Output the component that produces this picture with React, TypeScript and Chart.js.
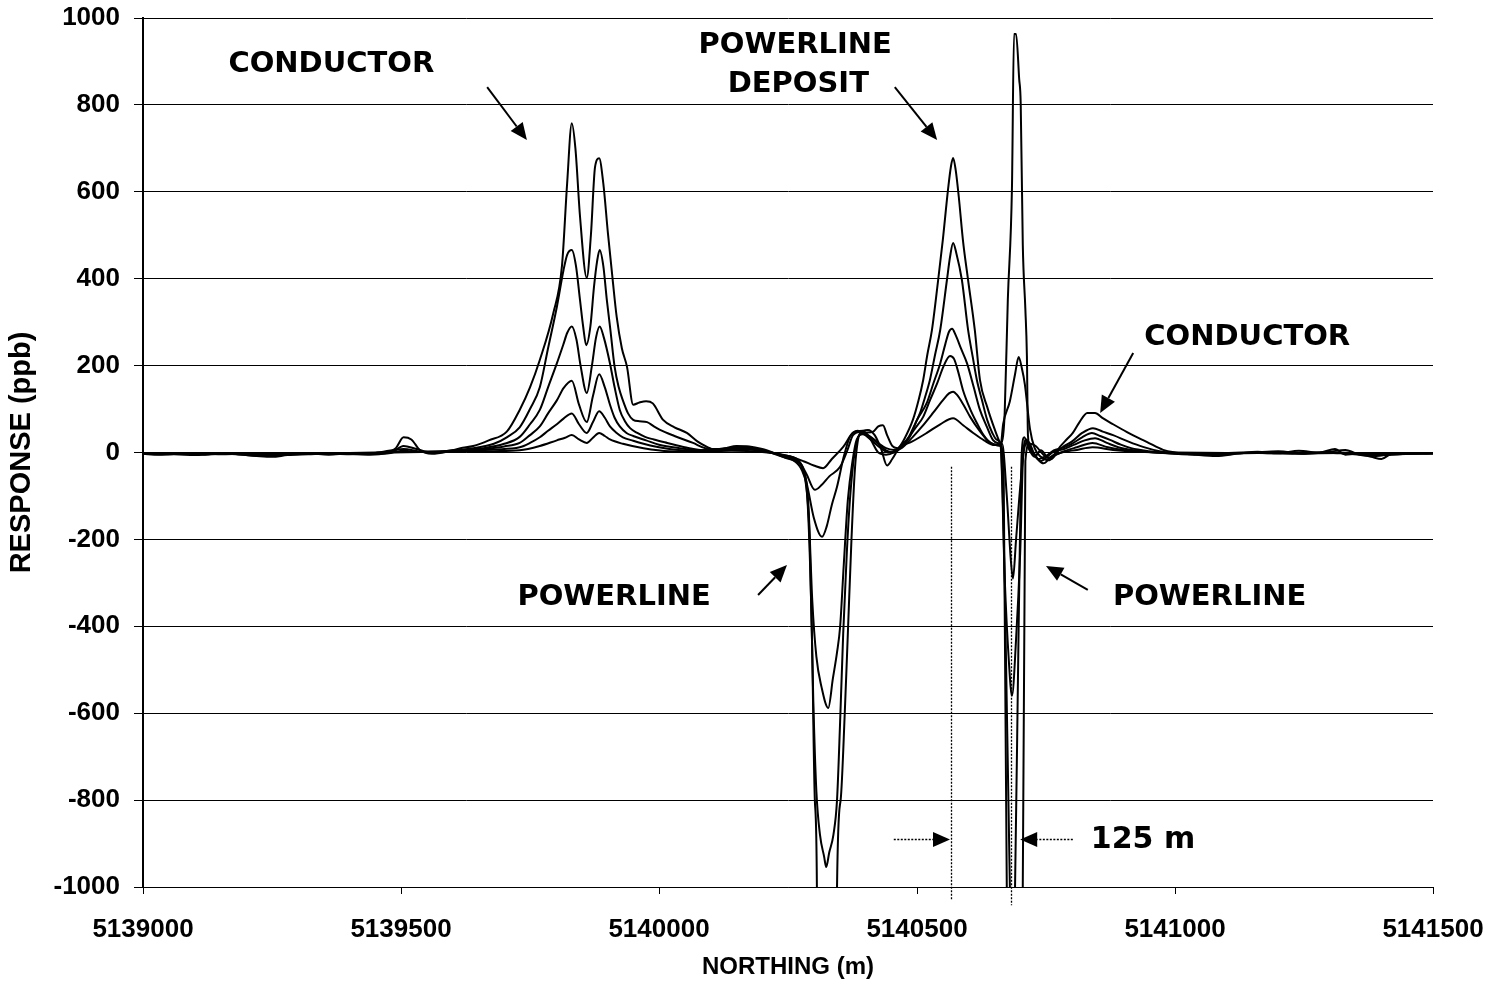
import React, { useEffect, useRef } from "react";
import { Chart, registerables } from "chart.js";

Chart.register(...registerables);

// ---- Data: [northing (m), response (ppb)] ----
const CH1: [number, number][] = [
  [5139000,-3],[5139030,-5],[5139060,-4],[5139100,-6],[5139140,-3],[5139180,-4],[5139220,-8],[5139250,-10],[5139280,-6],[5139320,-4],[5139360,-2],[5139400,-3],[5139440,-5],[5139470,-2],[5139490,10],[5139505,35],[5139520,30],[5139537,5],[5139560,-3],[5139590,2],[5139615,10],[5139640,15],[5139670,28],[5139705,48],[5139730,98],[5139750,150],[5139769,213],[5139795,320],[5139812,430],[5139822,620],[5139831,758],[5139838,700],[5139847,542],[5139860,402],[5139868,500],[5139876,657],[5139884,677],[5139892,620],[5139901,505],[5139910,400],[5139918,312],[5139928,240],[5139938,197],[5139950,110],[5139962,115],[5139975,118],[5139988,113],[5140008,75],[5140030,58],[5140054,45],[5140075,25],[5140093,13],[5140110,5],[5140130,10],[5140150,15],[5140175,14],[5140200,8],[5140220,0],[5140245,-12],[5140265,-22],[5140280,-50],[5140287,-94],[5140296,-400],[5140302,-800],[5140306,-1000],[5140310,-3000],[5140340,-3000],[5140345,-1000],[5140352,-800],[5140360,-600],[5140366,-416],[5140373,-200],[5140380,-33],[5140390,45],[5140405,52],[5140418,40],[5140430,10],[5140442,-30],[5140452,-15],[5140462,5],[5140475,30],[5140492,75],[5140503,120],[5140512,167],[5140520,225],[5140529,282],[5140541,397],[5140550,489],[5140560,604],[5140566,660],[5140570,678],[5140575,650],[5140581,588],[5140589,489],[5140599,397],[5140612,282],[5140622,167],[5140636,105],[5140651,52],[5140661,22],[5140668,-50],[5140674,-1000],[5140678,-3000],[5140700,-3000],[5140705,-1000],[5140710,-20],[5140718,20],[5140730,15],[5140745,-5],[5140760,-15],[5140777,13],[5140790,30],[5140802,45],[5140815,70],[5140830,91],[5140845,91],[5140860,79],[5140880,65],[5140907,47],[5140930,33],[5140946,24],[5140977,6],[5141000,0],[5141040,-5],[5141080,-8],[5141120,-3],[5141160,2],[5141200,-2],[5141240,4],[5141280,0],[5141310,8],[5141330,-5],[5141350,-3],[5141380,-10],[5141400,-15],[5141420,-3],[5141460,-2],[5141500,-3]
];

const CH2: [number, number][] = [
  [5139000,-2],[5139040,-4],[5139080,-3],[5139120,-5],[5139160,-2],[5139200,-6],[5139240,-8],[5139280,-4],[5139320,-2],[5139360,-5],[5139400,-2],[5139440,-3],[5139480,-1],[5139505,15],[5139530,8],[5139560,0],[5139600,5],[5139640,10],[5139680,20],[5139705,35],[5139730,58],[5139750,100],[5139769,150],[5139785,240],[5139802,335],[5139815,420],[5139822,455],[5139831,466],[5139839,430],[5139847,350],[5139853,290],[5139859,247],[5139867,290],[5139874,381],[5139880,440],[5139885,466],[5139892,430],[5139899,350],[5139906,280],[5139914,197],[5139922,150],[5139930,120],[5139940,90],[5139950,75],[5139962,72],[5139977,70],[5139990,60],[5140002,52],[5140030,38],[5140066,22],[5140090,10],[5140120,8],[5140150,12],[5140180,10],[5140210,2],[5140240,-10],[5140265,-20],[5140283,-60],[5140292,-200],[5140299,-570],[5140305,-780],[5140312,-880],[5140320,-930],[5140324,-954],[5140330,-920],[5140338,-880],[5140345,-800],[5140351,-620],[5140357,-416],[5140364,-230],[5140370,-109],[5140378,-10],[5140386,36],[5140398,45],[5140415,48],[5140425,60],[5140434,63],[5140442,40],[5140452,15],[5140462,10],[5140472,20],[5140481,29],[5140494,60],[5140506,91],[5140515,125],[5140525,167],[5140535,225],[5140545,282],[5140558,397],[5140564,450],[5140570,482],[5140576,460],[5140587,397],[5140599,282],[5140608,220],[5140616,167],[5140626,120],[5140636,75],[5140646,45],[5140655,29],[5140662,20],[5140670,-300],[5140680,-1000],[5140684,-1150],[5140690,-1000],[5140697,-400],[5140703,0],[5140708,35],[5140716,10],[5140728,-10],[5140740,5],[5140755,-12],[5140770,0],[5140785,15],[5140800,25],[5140820,45],[5140841,56],[5140860,48],[5140880,40],[5140910,25],[5140938,13],[5140970,3],[5141000,-2],[5141050,-4],[5141100,-2],[5141150,0],[5141200,3],[5141250,-3],[5141300,2],[5141330,6],[5141360,-6],[5141390,-8],[5141420,-4],[5141460,-3],[5141500,-2]
];

const CH3: [number, number][] = [
  [5139000,-1],[5139050,-3],[5139100,-2],[5139150,-4],[5139200,-3],[5139250,-5],[5139300,-3],[5139350,-2],[5139400,-4],[5139450,-1],[5139505,8],[5139540,2],[5139580,3],[5139620,6],[5139660,10],[5139700,20],[5139730,36],[5139750,65],[5139769,98],[5139785,150],[5139802,205],[5139815,250],[5139822,275],[5139831,290],[5139840,260],[5139848,200],[5139860,137],[5139870,200],[5139878,265],[5139885,290],[5139893,265],[5139905,205],[5139914,150],[5139924,98],[5139934,72],[5139944,56],[5139958,45],[5139973,36],[5139990,30],[5140016,22],[5140050,12],[5140090,5],[5140130,10],[5140170,12],[5140200,6],[5140240,-8],[5140265,-18],[5140280,-40],[5140289,-109],[5140297,-340],[5140305,-470],[5140315,-540],[5140328,-588],[5140337,-520],[5140345,-460],[5140351,-401],[5140358,-260],[5140366,-109],[5140375,-20],[5140383,29],[5140395,42],[5140410,35],[5140425,20],[5140440,5],[5140455,0],[5140470,12],[5140486,36],[5140500,75],[5140519,114],[5140532,160],[5140545,205],[5140555,250],[5140562,278],[5140568,285],[5140575,270],[5140585,240],[5140597,205],[5140610,150],[5140622,98],[5140635,60],[5140647,29],[5140656,22],[5140662,15],[5140670,-290],[5140678,-480],[5140684,-560],[5140692,-430],[5140700,-230],[5140706,0],[5140712,30],[5140722,5],[5140735,-15],[5140750,-8],[5140765,5],[5140780,10],[5140800,20],[5140820,35],[5140839,45],[5140855,38],[5140874,29],[5140895,18],[5140915,10],[5140950,3],[5141000,-3],[5141060,-5],[5141120,-2],[5141180,0],[5141240,-3],[5141300,0],[5141350,-4],[5141400,-6],[5141450,-3],[5141500,-2]
];

const CH4: [number, number][] = [
  [5139000,-2],[5139060,-1],[5139120,-3],[5139180,-2],[5139240,-4],[5139300,-2],[5139360,-1],[5139420,-3],[5139480,0],[5139505,4],[5139540,1],[5139600,3],[5139660,8],[5139700,14],[5139730,22],[5139750,40],[5139769,60],[5139785,90],[5139802,120],[5139815,148],[5139831,165],[5139845,110],[5139860,70],[5139872,130],[5139884,180],[5139895,150],[5139905,110],[5139914,80],[5139924,60],[5139937,45],[5139950,38],[5139975,28],[5140000,18],[5140040,10],[5140080,5],[5140120,8],[5140160,10],[5140200,4],[5140240,-6],[5140270,-20],[5140280,-40],[5140289,-86],[5140300,-150],[5140316,-194],[5140325,-170],[5140335,-120],[5140345,-79],[5140358,-10],[5140370,36],[5140385,50],[5140400,40],[5140415,25],[5140430,10],[5140445,0],[5140460,5],[5140480,29],[5140496,55],[5140512,82],[5140525,120],[5140539,159],[5140552,200],[5140564,222],[5140572,215],[5140580,185],[5140589,144],[5140603,100],[5140616,68],[5140629,40],[5140642,22],[5140656,18],[5140665,20],[5140674,-100],[5140682,-250],[5140686,-290],[5140692,-200],[5140700,-80],[5140708,10],[5140716,25],[5140726,0],[5140740,-20],[5140752,-10],[5140765,2],[5140785,8],[5140805,18],[5140825,28],[5140845,33],[5140868,22],[5140890,12],[5140920,5],[5140960,0],[5141020,-3],[5141080,-2],[5141140,0],[5141200,-2],[5141260,0],[5141320,-2],[5141380,-5],[5141440,-2],[5141500,-1]
];

const CH5: [number, number][] = [
  [5139000,-1],[5139080,-2],[5139160,-1],[5139240,-3],[5139320,-1],[5139400,-2],[5139480,0],[5139540,1],[5139620,3],[5139680,7],[5139730,12],[5139750,22],[5139769,35],[5139785,50],[5139802,65],[5139815,78],[5139831,90],[5139845,65],[5139860,45],[5139872,70],[5139884,95],[5139895,80],[5139905,60],[5139918,45],[5139930,35],[5139950,27],[5139970,20],[5139995,13],[5140020,8],[5140060,4],[5140110,6],[5140160,8],[5140200,3],[5140240,-6],[5140270,-18],[5140286,-50],[5140302,-86],[5140315,-75],[5140330,-55],[5140351,-33],[5140365,5],[5140376,40],[5140392,48],[5140408,38],[5140425,22],[5140440,10],[5140455,6],[5140470,10],[5140492,36],[5140510,60],[5140531,91],[5140550,120],[5140562,136],[5140570,140],[5140578,132],[5140590,110],[5140603,82],[5140620,52],[5140636,29],[5140650,18],[5140662,15],[5140667,66],[5140680,118],[5140690,180],[5140697,220],[5140703,195],[5140709,157],[5140719,54],[5140728,10],[5140740,-10],[5140755,-18],[5140770,-5],[5140790,5],[5140810,12],[5140840,22],[5140870,12],[5140900,6],[5140940,2],[5141000,-1],[5141080,-3],[5141160,-1],[5141240,-2],[5141320,-1],[5141400,-4],[5141500,-1]
];

const CH6: [number, number][] = [
  [5139000,-1],[5139100,-2],[5139200,-1],[5139300,-2],[5139400,-1],[5139500,1],[5139600,2],[5139680,3],[5139730,5],[5139769,15],[5139802,28],[5139818,34],[5139831,40],[5139845,30],[5139860,22],[5139872,34],[5139884,45],[5139895,38],[5139905,30],[5139930,20],[5139970,10],[5140020,3],[5140080,2],[5140140,4],[5140200,1],[5140250,-8],[5140280,-20],[5140300,-30],[5140318,-36],[5140335,-15],[5140357,13],[5140376,45],[5140395,50],[5140410,30],[5140425,0],[5140440,-5],[5140455,0],[5140467,13],[5140490,25],[5140519,45],[5140545,65],[5140570,79],[5140590,62],[5140609,45],[5140630,28],[5140650,17],[5140662,20],[5140667,40],[5140670,93],[5140676,351],[5140684,608],[5140688,963],[5140692,963],[5140698,860],[5140701,802],[5140705,479],[5140710,330],[5140713,222],[5140715,40],[5140720,5],[5140730,-10],[5140745,-25],[5140760,-10],[5140780,0],[5140810,6],[5140840,12],[5140880,6],[5140930,2],[5141000,0],[5141100,-1],[5141200,-1],[5141300,0],[5141400,-2],[5141500,-1]
];

const SERIES = [CH1, CH2, CH3, CH4, CH5, CH6];

const X_TICKS = [5139000, 5139500, 5140000, 5140500, 5141000, 5141500];
const Y_MIN = -1000;
const Y_MAX = 1000;
const Y_STEP = 200;

const X_TITLE = "NORTHING (m)";
const Y_TITLE = "RESPONSE (ppb)";

// ---- Annotations (data coordinates) ----
const LABELS: { text: string; x: number; y: number; size: number; align: CanvasTextAlign }[] = [
  { text: "CONDUCTOR", x: 5139365, y: 892, size: 29, align: "center" },
  { text: "POWERLINE", x: 5140264, y: 937, size: 29, align: "center" },
  { text: "DEPOSIT", x: 5140270, y: 846, size: 29, align: "center" },
  { text: "CONDUCTOR", x: 5141140, y: 264, size: 29, align: "center" },
  { text: "POWERLINE", x: 5139913, y: -333, size: 29, align: "center" },
  { text: "POWERLINE", x: 5141067, y: -333, size: 29, align: "center" },
  { text: "125 m", x: 5140938, y: -892, size: 30, align: "center" },
];

const ARROWS: [number, number, number, number][] = [
  [5139667, 841, 5139744, 719],
  [5140457, 841, 5140539, 719],
  [5140919, 229, 5140855, 91],
  [5140192, -328, 5140248, -259],
  [5140831, -316, 5140750, -261],
];

const DASHED_ARROWS: [number, number, number, number][] = [
  [5140455, -890, 5140564, -890],
  [5140802, -890, 5140700, -890],
];

const DASHED_LINES: [number, number, number][] = [
  [5140566, -33, -1030],
  [5140682, -33, -1042],
];

const TICK_FONT = "'Liberation Sans', Arial, sans-serif";
const LABEL_FONT = "'DejaVu Sans', Verdana, sans-serif";

function drawArrow(ctx: CanvasRenderingContext2D, x1: number, y1: number, x2: number, y2: number, lw: number) {
  const ang = Math.atan2(y2 - y1, x2 - x1);
  const hl = 17;
  const hw = 7.5;
  const bx = x2 - hl * Math.cos(ang);
  const by = y2 - hl * Math.sin(ang);
  ctx.lineWidth = lw;
  ctx.beginPath();
  ctx.moveTo(x1, y1);
  ctx.lineTo(bx, by);
  ctx.stroke();
  ctx.setLineDash([]);
  ctx.beginPath();
  ctx.moveTo(x2, y2);
  ctx.lineTo(bx + hw * Math.sin(ang), by - hw * Math.cos(ang));
  ctx.lineTo(bx - hw * Math.sin(ang), by + hw * Math.cos(ang));
  ctx.closePath();
  ctx.fill();
}

const annotationPlugin = {
  id: "geoAnnotations",
  afterDraw(chart: any) {
    const { ctx } = chart;
    const xs = chart.scales.x;
    const ys = chart.scales.y;
    const px = (v: number) => xs.getPixelForValue(v);
    const py = (v: number) => ys.getPixelForValue(v);
    ctx.save();
    ctx.strokeStyle = "#000";
    ctx.fillStyle = "#000";
    for (const [x, y1, y2] of DASHED_LINES) {
      ctx.setLineDash([2, 1.5]);
      ctx.lineWidth = 1.3;
      ctx.beginPath();
      const xp = Math.round(px(x)) + 0.5;
      ctx.moveTo(xp, py(y1));
      ctx.lineTo(xp, py(y2));
      ctx.stroke();
    }
    for (const [x1, y1, x2, y2] of DASHED_ARROWS) {
      ctx.setLineDash([2, 1.5]);
      drawArrow(ctx, px(x1), Math.round(py(y1)) + 0.5, px(x2), Math.round(py(y2)) + 0.5, 1.3);
    }
    ctx.setLineDash([]);
    for (const [x1, y1, x2, y2] of ARROWS) {
      drawArrow(ctx, px(x1), py(y1), px(x2), py(y2), 2);
    }
    ctx.textBaseline = "middle";
    for (const l of LABELS) {
      ctx.textAlign = l.align;
      ctx.font = `bold ${l.size}px ${LABEL_FONT}`;
      ctx.fillText(l.text, px(l.x), py(l.y));
    }
    ctx.restore();
  },
};

export default function App() {
  const ref = useRef<HTMLCanvasElement | null>(null);
  useEffect(() => {
    document.body.style.margin = "0";
    const canvas = ref.current;
    if (!canvas) return;
    const chart = new Chart(canvas, {
      type: "line",
      data: {
        datasets: SERIES.map((s, i) => ({
          label: `CH${i + 1}`,
          data: s.map(([x, y]) => ({ x, y })),
          borderColor: "#000",
          backgroundColor: "#000",
          borderWidth: 2,
          pointRadius: 0,
          cubicInterpolationMode: "monotone" as const,
          fill: false,
        })),
      },
      options: {
        animation: false,
        responsive: false,
        devicePixelRatio: 1,
        layout: { padding: { top: 18, right: 72, left: 0, bottom: 0 } },
        plugins: { legend: { display: false }, tooltip: { enabled: false } },
        scales: {
          x: {
            type: "linear",
            min: X_TICKS[0],
            max: X_TICKS[X_TICKS.length - 1],
            afterFit: (s: any) => {
              s.height = 111;
              s.paddingLeft = 0;
              s.paddingRight = 0;
            },
            afterBuildTicks: (s: any) => {
              s.ticks = X_TICKS.map((v) => ({ value: v }));
            },
            ticks: {
              callback: (v: any) => String(v),
              font: { family: TICK_FONT, size: 26, weight: "bold" },
              color: "#000",
              padding: 20,
              maxRotation: 0,
              autoSkip: false,
            },
            grid: { drawOnChartArea: false, drawTicks: true, tickLength: 7, color: "#000", lineWidth: 1 },
            border: { display: true, color: "#000", width: 1 },
            title: {
              display: true,
              text: X_TITLE,
              color: "#000",
              font: { family: TICK_FONT, size: 24, weight: "bold" },
              padding: { top: 0, bottom: 16 },
            },
          },
          y: {
            type: "linear",
            min: Y_MIN,
            max: Y_MAX,
            afterFit: (s: any) => {
              s.width = 143;
              s.paddingTop = 0;
              s.paddingBottom = 0;
            },
            ticks: {
              stepSize: Y_STEP,
              callback: (v: any) => String(v),
              font: { family: TICK_FONT, size: 26, weight: "bold" },
              color: "#000",
              padding: 14,
            },
            grid: { color: "#000", lineWidth: 1, tickLength: 9, drawTicks: true },
            border: { display: true, color: "#000", width: 2 },
            title: {
              display: true,
              text: Y_TITLE,
              color: "#000",
              font: { family: TICK_FONT, size: 29, weight: "bold" },
              padding: { top: 5, bottom: 0 },
            },
          },
        },
      },
      plugins: [annotationPlugin],
    });
    return () => chart.destroy();
  }, []);
  return (
    <div style={{ width: 1505, height: 998, background: "#fff" }}>
      <canvas ref={ref} width={1505} height={998} style={{ display: "block" }} />
    </div>
  );
}
